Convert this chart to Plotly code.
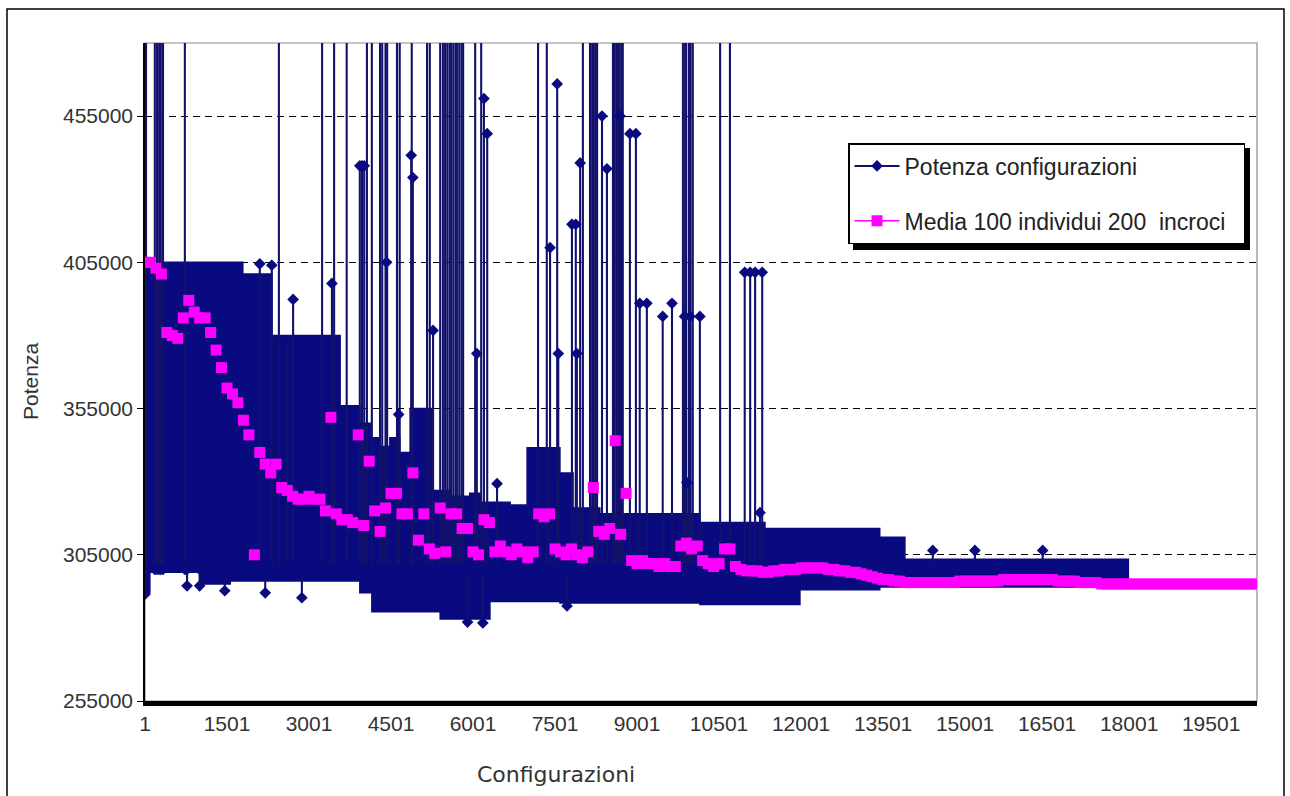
import plotly.graph_objects as go

# ---------------- data ----------------
X_TICKS = [1, 1501, 3001, 4501, 6001, 7501, 9001, 10501, 12001, 13501, 15001, 16501, 18001, 19501]
Y_TICKS = [255000, 305000, 355000, 405000, 455000]

# dense band of the "Potenza configurazioni" series (step envelope)
band_hi_x = [1, 1790, 2320, 3570, 3930, 4120, 4300, 4480, 4660, 4850, 5270, 5580, 5940, 6130,
             6680, 6990, 7590, 7830, 8320, 10150, 11340, 13440, 13900, 18001]
band_hi = [405000, 401000, 380000, 356000, 350000, 345000, 342000, 345000, 340000, 355000, 327000,
           325000, 326000, 323000, 322000, 341600, 333000, 321000, 319000, 316000, 314000, 311000,
           303500, 303500]
band_lo_x = [1, 90, 1010, 1560, 3930, 4150, 5400, 6310, 7590, 10150, 11980, 13440, 18001]
band_lo = [292000, 299000, 295000, 296000, 292000, 285500, 283000, 289000, 288500, 288000,
           293000, 294000, 294000]

# isolated peaks of the same series (values above the axis maximum are off-scale)
SPIKE_BASE = 300000
OFF = 500000
spike_x = [20, 180, 220, 260, 290, 330, 730, 2100, 2320, 2450, 2600, 2710, 3240, 3420, 3460, 3690,
           3930, 3970, 4010, 4060, 4150, 4300, 4340, 4400, 4420, 4430, 4610, 4640, 4660,
           4870, 4880, 4900, 5160, 5210, 5270, 5400, 5450,
           5490, 5530, 5570, 5600, 5640, 5680, 5710, 5750, 5790, 5820,
           6040, 6070, 6150, 6200, 6260, 6440, 7190, 7350, 7410, 7540, 7560,
           7810, 7880, 7900, 7960, 8010, 8140, 8180, 8210, 8240, 8270, 8360, 8450,
           8560, 8590, 8620, 8650, 8670, 8690, 8710, 8740, 8870, 8980, 9050, 9180, 9470, 9640,
           9840, 9870, 9880, 9900, 9910, 9950, 9970, 9980, 10020, 10150, 10520, 10700,
           10970, 11070, 11160, 11250, 11290, 14410, 15180, 16420,
           1, 770, 1000, 1460, 2200, 2870, 5900, 6180, 7720]
spike_peak = [OFF, OFF, OFF, OFF, OFF, OFF, OFF, 404500, 404000, OFF, 378000, 392300, OFF, 397800, OFF, OFF,
              438000, 438000, 438000, OFF, OFF, OFF, OFF, OFF, 405000, OFF, OFF, 353000, OFF,
              441600, OFF, 434000, OFF, OFF, 381700, OFF, OFF,
              OFF, OFF, OFF, OFF, OFF, OFF, OFF, OFF, OFF, OFF,
              OFF, 373800, OFF, 461000, 449000, 329300, OFF, OFF, 410000, 466000, 373800,
              418000, 418000, 373800, 439000, OFF, OFF, OFF, OFF, OFF, OFF, 455000, 437000,
              OFF, OFF, OFF, OFF, OFF, 455000, OFF, OFF, 449000, 449000, 391000, 391000, 386500, 391000,
              OFF, 386500, OFF, OFF, 329700, OFF, 386500, OFF, OFF, 386500, OFF, OFF,
              401600, 401600, 401600, 319400, 401600, 306500, 306500, 306500,
              291500, 294400, 294400, 292700, 292000, 290300, 282000, 281700, 287500]

# "Media 100 individui 200 incroci": one value every 100 configurations
media_x = list(range(1, 20302, 100))
media_y = [
    405000, 405000, 403000, 401000, 381000, 380000, 379000, 386000, 392000, 388000,
    386000, 386000, 381000, 375000, 369000, 362000, 360000, 357000, 351000, 346000,
    305000, 340000, 336000, 333000, 336000, 328000, 327000, 325000, 324000, 324000,
    325000, 324000, 324000, 320000, 352000, 319000, 317000, 317000, 316000, 346000,
    315000, 337000, 320000, 313000, 321000, 326000, 326000, 319000, 319000, 333000,
    310000, 319000, 307000, 305500, 321000, 306000, 319000, 319000, 314000, 314000,
    306000, 305000, 317000, 316000, 306000, 308000, 306000, 305000, 307000, 306000,
    304000, 306000, 319000, 318000, 319000, 307000, 306000, 305000, 307000, 305000,
    304000, 306000, 328000, 313000, 312000, 314000, 344000, 312000, 326000, 303000,
    302000, 303000, 302000, 302000, 301000, 302000, 301000, 301000, 308000, 309000,
    307000, 308000, 303000, 302000, 301000, 302000, 307000, 307000, 301000, 300000,
    299500, 299500, 299500, 299000, 299000, 299500, 299500, 300000, 300000, 300000,
    300500, 300500, 300500, 300500, 300500, 300000, 300000, 299500, 299500, 299000,
    299000, 298500, 298000, 297500, 297000, 296500, 296500, 296000, 296000, 295500,
    295500, 295500, 295500, 295500, 295500, 295500, 295500, 295500, 295500, 296000,
    296000, 296000, 296000, 296000, 296000, 296000, 296000, 296500, 296500, 296500,
    296500, 296500, 296500, 296500, 296500, 296500, 296500, 296000, 296000, 296000,
    296000, 295500, 295500, 295500, 295500, 295000, 295000, 295000, 295000, 295000,
    295000, 295000, 295000, 295000, 295000, 295000, 295000, 295000, 295000, 295000,
    295000, 295000, 295000, 295000, 295000, 295000, 295000, 295000, 295000, 295000,
    295000, 295000, 295000, 295000,
]

# ---------------- styling ----------------
NAVY = "#0a0a80"
SPIKE_COL = "#12126c"
MAGENTA = "#ff00ff"
TXT = "#333333"
TICK_FONT = dict(family="Liberation Sans, Arial, sans-serif", size=21, color=TXT)

# plot-area geometry in pixels (used for paper coordinates of decorations)
L, R, T, B = 145, 1257, 43, 701
def px(xp):
    return (xp - L) / (R - L)
def py(yp):
    return (B - yp) / (B - T)

fig = go.Figure()

fig.add_trace(go.Scatter(
    x=band_lo_x, y=band_lo, mode="lines",
    line=dict(color=NAVY, width=1.5, shape="hv"),
    showlegend=False, hoverinfo="skip"))
fig.add_trace(go.Scatter(
    x=band_hi_x, y=band_hi, mode="lines",
    line=dict(color=NAVY, width=1.5, shape="hv"),
    fill="tonexty", fillcolor=NAVY,
    showlegend=False, hoverinfo="skip"))

sx, sy = [], []
for xv, pv in zip(spike_x, spike_peak):
    sx += [xv, xv, None]
    sy += [SPIKE_BASE, pv, None]
fig.add_trace(go.Scatter(
    x=sx, y=sy, mode="lines+markers",
    line=dict(color=SPIKE_COL, width=2.1),
    marker=dict(symbol="diamond", size=9, color=NAVY),
    name="Potenza configurazioni", legendgroup="a"))

mx, my = [], []
for xv, yv in zip(media_x, media_y):
    mx += [xv, None]
    my += [yv, None]
fig.add_trace(go.Scatter(
    x=mx, y=my, mode="lines+markers", connectgaps=False,
    line=dict(color=MAGENTA, width=1.5),
    marker=dict(symbol="square", size=11, color=MAGENTA),
    name="Media 100 individui 200\u00a0 incroci\u00a0\u00a0", legendgroup="b"))

fig.update_layout(
    width=1290, height=796,
    margin=dict(l=L, r=1290 - R, t=T, b=796 - B),
    paper_bgcolor="white", plot_bgcolor="white",
    font=dict(family="Liberation Sans, Arial, sans-serif", color=TXT),
    xaxis=dict(
        range=[1, 20340], tickvals=X_TICKS, ticktext=[str(v) for v in X_TICKS],
        showgrid=False, zeroline=False, showline=True, linecolor="black", linewidth=5,
        ticks="", tickfont=TICK_FONT),
    yaxis=dict(
        range=[255000, 480000], tickvals=Y_TICKS, ticktext=[str(v) for v in Y_TICKS],
        showgrid=True, gridcolor="black", gridwidth=1, griddash="7px,5px",
        zeroline=False, showline=True, linecolor="black", linewidth=1.5,
        ticks="outside", ticklen=6, tickcolor="black", tickfont=TICK_FONT),
    legend=dict(
        x=px(848), y=py(143), xanchor="left", yanchor="top",
        bgcolor="white", bordercolor="black", borderwidth=1.5,
        font=dict(family="Liberation Sans, Arial, sans-serif", size=23, color="#222222"),
        traceorder="grouped", tracegroupgap=22, itemwidth=45),
    shapes=[
        dict(type="rect", xref="paper", yref="paper", x0=0, x1=1, y0=0, y1=1,
             line=dict(color="#8c8c8c", width=1.2), layer="below"),
        dict(type="rect", xref="paper", yref="paper",
             x0=px(853), x1=px(1250), y0=py(250), y1=py(148),
             fillcolor="black", line=dict(width=0), layer="above"),
        dict(type="rect", xref="paper", yref="paper",
             x0=px(7), x1=px(1284), y0=py(800), y1=py(9),
             line=dict(color="black", width=1.5)),
    ],
    annotations=[
        dict(text="Configurazioni", xref="paper", yref="paper", x=px(556), y=py(774),
             xanchor="center", yanchor="middle", showarrow=False,
             font=dict(family="DejaVu Sans, Verdana, sans-serif", size=22, color=TXT)),
        dict(text="Potenza", xref="paper", yref="paper", x=px(30), y=py(382),
             xanchor="center", yanchor="middle", showarrow=False, textangle=-90,
             font=dict(family="Liberation Sans, Arial, sans-serif", size=21, color=TXT)),
    ],
)

fig.write_html("out.html")
